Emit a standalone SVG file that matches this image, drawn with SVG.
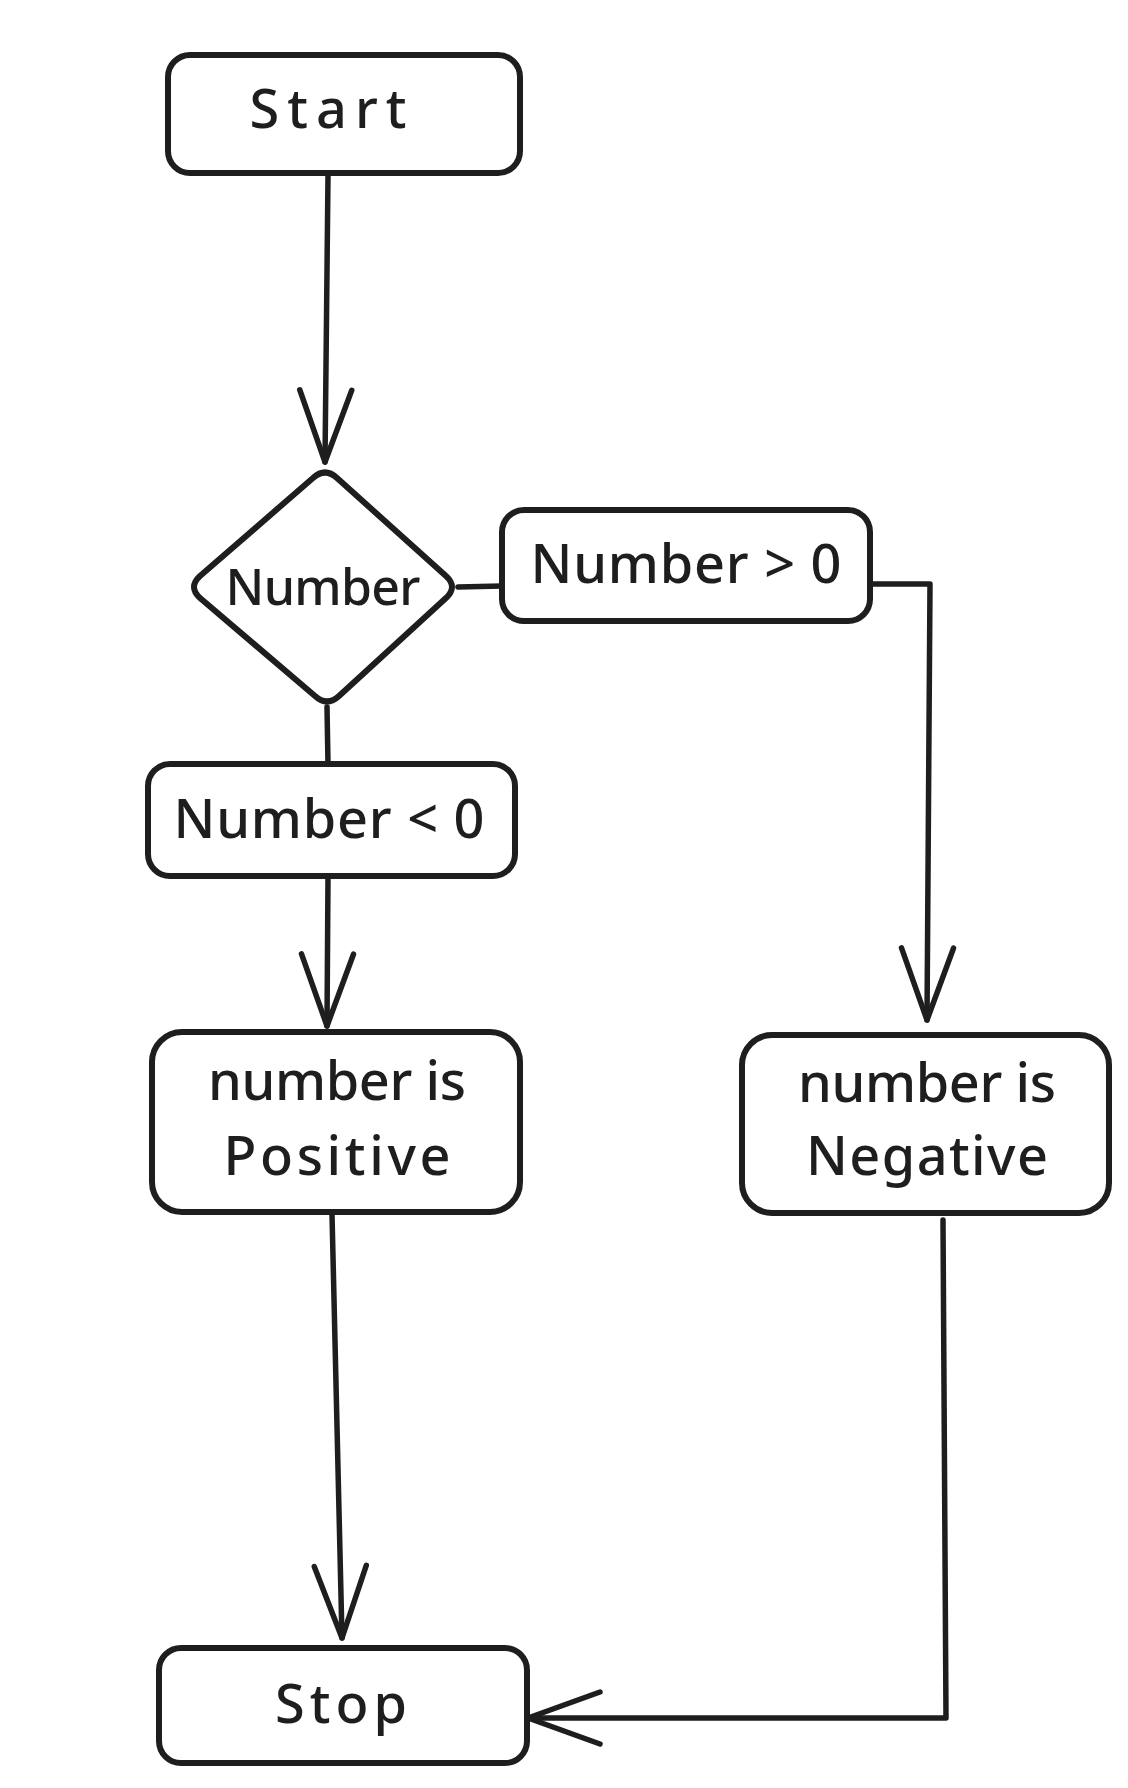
<svg xmlns="http://www.w3.org/2000/svg" width="1128" height="1788" viewBox="0 0 1128 1788">
<defs>
<style>
.box{fill:#ffffff;stroke:#1e1e1e;stroke-width:6;stroke-linejoin:round}
.lbl{font-family:"Noto Sans","DejaVu Sans",sans-serif;font-size:54px;font-weight:500;fill:#1e1e1e;text-anchor:middle}
.conn{fill:none;stroke:#1e1e1e;stroke-width:5.5;stroke-linecap:round;stroke-linejoin:round}
</style>
<marker id="arr" markerUnits="userSpaceOnUse" viewBox="-90 -45 100 90" markerWidth="100" markerHeight="90" refX="0" refY="0" orient="auto" overflow="visible">
<path d="M-72,-26 L0,0 L-72,26" fill="none" stroke="#1e1e1e" stroke-width="5.5" stroke-linecap="round" stroke-linejoin="round"/>
</marker>
</defs>
<rect width="1128" height="1788" fill="#ffffff"/>
<g id="connectors">
<path class="conn" d="M328,175 L325,462" marker-end="url(#arr)"/>
<path class="conn" d="M458,587 L502,586"/>
<path class="conn" d="M870,584 L930,584 L927,1020" marker-end="url(#arr)"/>
<path class="conn" d="M327,707 L328,764"/>
<path class="conn" d="M328,876 L327,1026" marker-end="url(#arr)"/>
<path class="conn" d="M332,1214 L342,1638" marker-end="url(#arr)"/>
<path class="conn" d="M943,1220 L946,1718 L528,1718" marker-end="url(#arr)"/>
</g>
<g id="start">
<rect class="box" x="168" y="55" width="352" height="118" rx="22"/>
<text class="lbl" x="328" y="128" textLength="157">Start</text>
</g>
<g id="decision">
<path class="box" d="M313,478 Q325,467 337,478 L446,576 Q458,587 446,598 L339,696 Q327,707 315,696 L200,598 Q188,587 200,576 Z"/>
<text class="lbl" x="323" y="605" style="font-size:50px" textLength="195">Number</text>
</g>
<g id="gt-zero">
<rect class="box" x="502" y="510" width="368" height="111" rx="22"/>
<text class="lbl" x="686" y="583" textLength="311">Number &gt; 0</text>
</g>
<g id="lt-zero">
<rect class="box" x="148" y="764" width="367" height="112" rx="22"/>
<text class="lbl" x="329" y="838" textLength="311">Number &lt; 0</text>
</g>
<g id="positive">
<rect class="box" x="152" y="1032" width="368" height="180" rx="30"/>
<text class="lbl" x="337" y="1100" textLength="258">number is</text>
<text class="lbl" x="337" y="1175" textLength="227">Positive</text>
</g>
<g id="negative">
<rect class="box" x="742" y="1035" width="367" height="178" rx="30"/>
<text class="lbl" x="927" y="1102" textLength="258">number is</text>
<text class="lbl" x="927" y="1175" textLength="242">Negative</text>
</g>
<g id="stop">
<rect class="box" x="159" y="1648" width="368" height="115" rx="22"/>
<text class="lbl" x="341" y="1723" textLength="132">Stop</text>
</g>
</svg>
